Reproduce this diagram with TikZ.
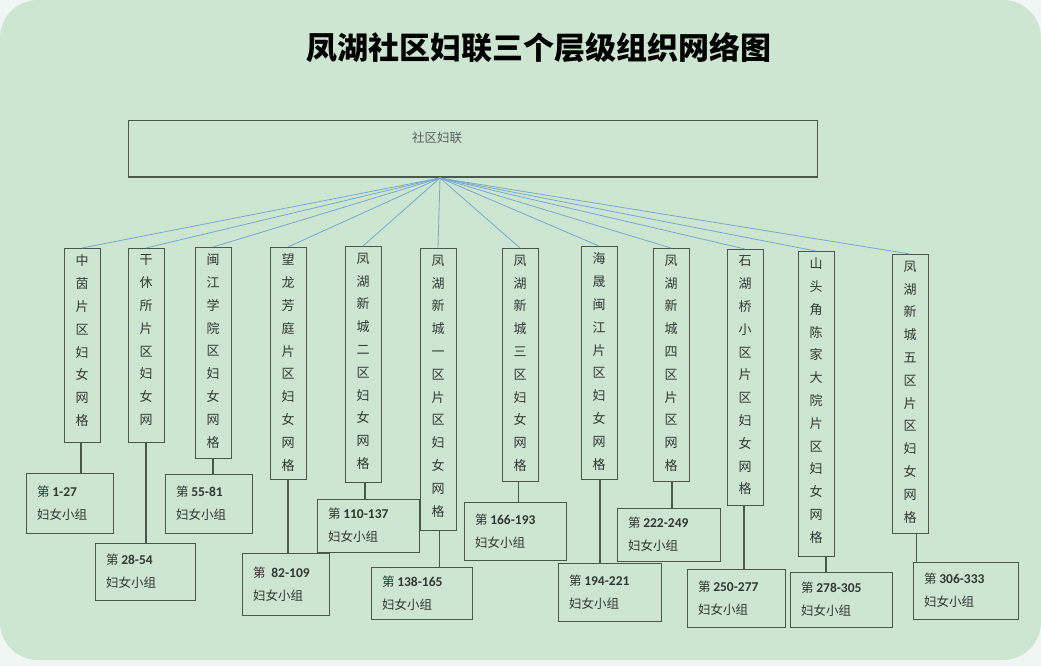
\documentclass[tikz,border=0pt]{standalone}
\usepackage{fontspec}
\setmainfont{Noto Sans CJK SC}
\newfontfamily\latinf{Carlito}
\definecolor{bgc}{RGB}{205,230,209}
\definecolor{outc}{RGB}{240,246,243}
\definecolor{edgec}{RGB}{72,88,76}
\definecolor{fanc}{RGB}{118,168,208}
\definecolor{txtc}{RGB}{50,55,52}
\newcommand\vt[2]{\parbox[c][#1pt][t]{36pt}{\centering\fontsize{13}{22.8}\selectfont\vspace*{7pt}#2}}
\newcommand\bt[3]{\parbox[c][#2pt][c]{#1pt}{\raggedright\leftskip=11pt\fontsize{12.5}{23}\selectfont 第 {\latinf\bfseries\fontsize{13.5}{23}\selectfont #3}\\妇女小组}}
\begin{document}
\begin{tikzpicture}[x=1pt,y=-1pt,
  vbox/.style={draw=edgec, line width=1pt, inner sep=0pt, outer sep=0pt, anchor=north west, text=txtc},
  gbox/.style={draw=edgec, line width=1pt, inner sep=0pt, outer sep=0pt, anchor=north west, text=txtc},
  fan/.style={draw=fanc, line width=0.8pt},
  link/.style={draw=edgec, line width=1.4pt}]
\useasboundingbox (0,0) rectangle (1041,666);
\fill[outc] (0,0) rectangle (1041,666);
\fill[bgc, rounded corners=38pt] (0,0) rectangle (1041,660);

\node[font=\bfseries\fontsize{31}{32}\selectfont, text=black] (title) at (539,48) {凤湖社区妇联三个层级组织网络图};

\node[draw=edgec, line width=1pt, inner sep=0pt, outer sep=0pt, anchor=north west, minimum width=689pt, minimum height=56pt] (top) at (128,121) {};
\draw[edgec, line width=1.6pt] (top.south west) -- (top.south east);
\node[text=txtc!80, font=\fontsize{12.5}{14}\selectfont] (toplabel) at (437,138) {社区妇联};
\coordinate (hub) at (440,178);

\node[vbox] (v1) at (64,248) {\vt{194}{中\\茵\\片\\区\\妇\\女\\网\\格}};
\node[vbox] (v2) at (128,248) {\vt{194}{干\\休\\所\\片\\区\\妇\\女\\网}};
\node[vbox] (v3) at (195,247) {\vt{211}{闽\\江\\学\\院\\区\\妇\\女\\网\\格}};
\node[vbox] (v4) at (270,247) {\vt{232}{望\\龙\\芳\\庭\\片\\区\\妇\\女\\网\\格}};
\node[vbox] (v5) at (345,246) {\vt{236}{凤\\湖\\新\\城\\二\\区\\妇\\女\\网\\格}};
\node[vbox] (v6) at (420,248) {\vt{282}{凤\\湖\\新\\城\\一\\区\\片\\区\\妇\\女\\网\\格}};
\node[vbox] (v7) at (502,248) {\vt{233}{凤\\湖\\新\\城\\三\\区\\妇\\女\\网\\格}};
\node[vbox] (v8) at (581,246) {\vt{233}{海\\晟\\闽\\江\\片\\区\\妇\\女\\网\\格}};
\node[vbox] (v9) at (653,248) {\vt{233}{凤\\湖\\新\\城\\四\\区\\片\\区\\网\\格}};
\node[vbox] (v10) at (727,249) {\vt{256}{石\\湖\\桥\\小\\区\\片\\区\\妇\\女\\网\\格}};
\node[vbox] (v11) at (798,251) {\vt{305}{山\\头\\角\\陈\\家\\大\\院\\片\\区\\妇\\女\\网\\格}};
\node[vbox] (v12) at (892,254) {\vt{279}{凤\\湖\\新\\城\\五\\区\\片\\区\\妇\\女\\网\\格}};

\foreach \i in {1,...,12} \draw[fan] (hub) -- (v\i.north);

\node[gbox] (b1) at (26,473) {\bt{87}{60}{1-27}};
\node[gbox] (b2) at (95,543) {\bt{100}{57}{28-54}};
\node[gbox] (b3) at (165,474) {\bt{87}{59}{55-81}};
\node[gbox] (b4) at (242,553) {\bt{87}{62}{~82-109}};
\node[gbox] (b5) at (317,499) {\bt{102}{53}{110-137}};
\node[gbox] (b6) at (371,567) {\bt{101}{52}{138-165}};
\node[gbox] (b7) at (464,502) {\bt{102}{58}{166-193}};
\node[gbox] (b8) at (558,563) {\bt{103}{58}{194-221}};
\node[gbox] (b9) at (617,508) {\bt{103}{53}{222-249}};
\node[gbox] (b10) at (687,569) {\bt{98}{58}{250-277}};
\node[gbox] (b11) at (790,572) {\bt{102}{55}{278-305}};
\node[gbox] (b12) at (913,562) {\bt{105}{57}{306-333}};

\draw[link] ([xshift=-1pt]v1.south) -- ([xshift=-1pt]v1.south |- b1.north);
\draw[link] (v2.south) -- (v2.south |- b2.north);
\draw[link] (v3.south) -- (v3.south |- b3.north);
\draw[link] (v4.south) -- (v4.south |- b4.north);
\draw[link] ([xshift=2pt]v5.south) -- ([xshift=2pt]v5.south |- b5.north);
\draw[link] ([xshift=1.5pt]v6.south) -- ([xshift=1.5pt]v6.south |- b6.north);
\draw[link] ([xshift=-1.5pt]v7.south) -- ([xshift=-1.5pt]v7.south |- b7.north);
\draw[link] ([xshift=1pt]v8.south) -- ([xshift=1pt]v8.south |- b8.north);
\draw[link] ([xshift=1pt]v9.south) -- ([xshift=1pt]v9.south |- b9.north);
\draw[link] ([xshift=-1pt]v10.south) -- ([xshift=-1pt]v10.south |- b10.north);
\draw[link] ([xshift=10pt]v11.south) -- ([xshift=10pt]v11.south |- b11.north);
\draw[link] ([xshift=6.5pt]v12.south) -- ([xshift=6.5pt]v12.south |- b12.north);
\end{tikzpicture}
\end{document}
